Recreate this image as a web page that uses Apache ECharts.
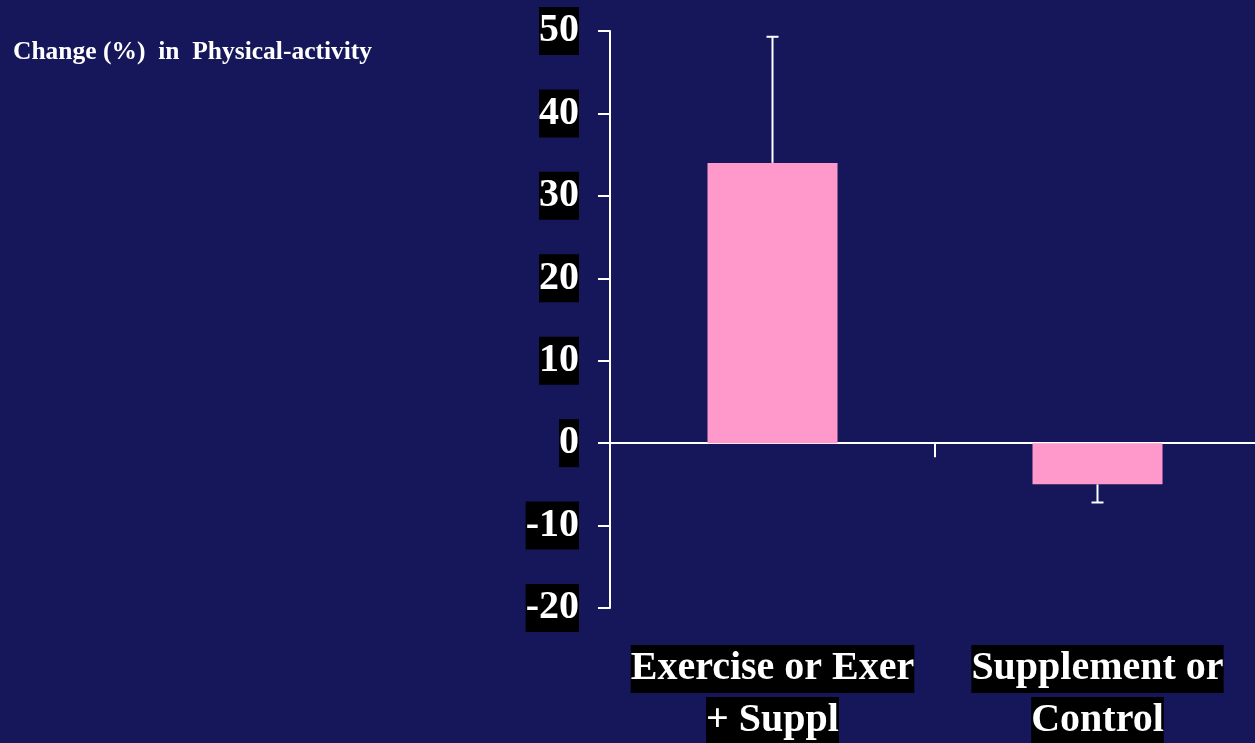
<!DOCTYPE html>
<html>
<head>
<meta charset="utf-8">
<script src="https://cdn.jsdelivr.net/npm/echarts@6/dist/echarts.min.js"></script>
<style>
  html, body { margin: 0; padding: 0; background: #16165a; }
  #chart { width: 1255px; height: 743px; }
</style>
</head>
<body>
<div id="chart"></div>
<script>
// data
const categories = ["Exercise or Exer\n+ Suppl", "Supplement or\nControl"];
const changeValues = [34, -5];
const errorValues = [15.3, 2.2];
const yTicks = [-20, -10, 0, 10, 20, 30, 40, 50];

const SERIF = "'Liberation Serif', 'Times New Roman', serif";

const chart = echarts.init(document.getElementById("chart"));

// error bar: vertical line away from zero with a small cap
function renderError(params, api) {
    const idx = api.value(0);
    const val = api.value(1);
    const err = api.value(2);
    const tip = val >= 0 ? val + err : val - err;
    const base = api.coord([idx, val]);
    const end = api.coord([idx, tip]);
    const capHalf = 6;
    const style = { stroke: "#ffffff", lineWidth: 2 };
    return {
        type: "group",
        children: [
            { type: "line", shape: { x1: base[0], y1: base[1], x2: end[0], y2: end[1] }, style },
            { type: "line", shape: { x1: end[0] - capHalf, y1: end[1], x2: end[0] + capHalf, y2: end[1] }, style }
        ]
    };
}

const option = {
    backgroundColor: "#16165a",
    animation: false,
    title: {
        text: "Change (%)  in  Physical-activity",
        left: 8,
        top: 34,
        textStyle: {
            color: "#ffffff",
            fontFamily: SERIF,
            fontWeight: "bold",
            fontSize: 25.5,
            lineHeight: 27
        }
    },
    grid: {
        left: 610,
        top: 31,
        width: 650,
        height: 577,
        outerBoundsMode: "none"
    },
    xAxis: [
        {
            // zero line with boundary ticks
            type: "category",
            data: categories,
            axisLine: { onZero: true, lineStyle: { color: "#ffffff", width: 2 } },
            axisTick: { show: true, length: 14, lineStyle: { color: "#ffffff", width: 2 } },
            axisLabel: { show: false },
            splitLine: { show: false }
        },
        {
            // category names at the bottom
            type: "category",
            data: categories,
            position: "bottom",
            axisLine: { show: false, onZero: false },
            axisTick: { show: false },
            splitLine: { show: false },
            axisLabel: {
                margin: 37,
                interval: 0,
                formatter: function (v) {
                    const lines = v.split("\n");
                    return "{a|" + lines[0] + "}\n{g|}\n{a|" + lines[1] + "}";
                },
                rich: {
                    a: {
                        color: "#ffffff",
                        fontFamily: SERIF,
                        fontWeight: "bold",
                        fontSize: 40,
                        lineHeight: 48,
                        padding: [4, 0, 4, 0],
                        backgroundColor: "#000000"
                    },
                    g: { fontSize: 1, lineHeight: 4 }
                }
            }
        }
    ],
    yAxis: {
        type: "value",
        min: yTicks[0],
        max: yTicks[yTicks.length - 1],
        interval: 10,
        axisLine: { show: true, lineStyle: { color: "#ffffff", width: 2 } },
        axisTick: { show: true, length: 12, lineStyle: { color: "#ffffff", width: 2 } },
        splitLine: { show: false },
        axisLabel: {
            margin: 31,
            color: "#ffffff",
            fontFamily: SERIF,
            fontWeight: "bold",
            fontSize: 40,
            lineHeight: 40,
            padding: [4, 0, 4, 0],
            backgroundColor: "#000000"
        }
    },
    series: [
        {
            type: "bar",
            xAxisIndex: 0,
            data: changeValues,
            barWidth: 130,
            itemStyle: { color: "#ff99cc" }
        },
        {
            type: "custom",
            xAxisIndex: 0,
            renderItem: renderError,
            data: changeValues.map((v, i) => [i, v, errorValues[i]]),
            z: 5
        }
    ]
};

chart.setOption(option);
</script>
</body>
</html>
